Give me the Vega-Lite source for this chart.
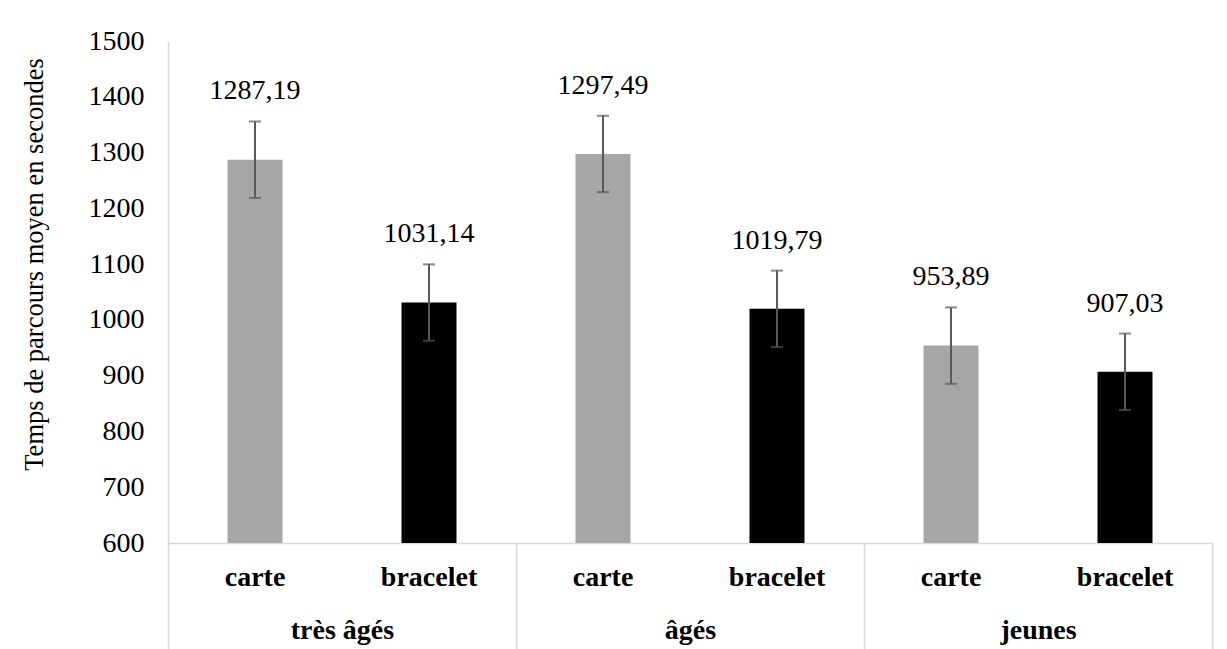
{
  "$schema": "https://vega.github.io/schema/vega-lite/v6.json",
  "width": 1044,
  "height": 502,
  "autosize": {"type": "none"},
  "padding": {"left": 168, "top": 41, "right": 15, "bottom": 106},
  "background": "white",
  "config": {
    "view": {"stroke": null},
    "font": "Liberation Serif",
    "axis": {"labelFont": "Liberation Serif", "titleFont": "Liberation Serif"},
    "text": {"font": "Liberation Serif"},
    "locale": {"number": {"decimal": ",", "thousands": "", "grouping": [3], "currency": ["", ""]}}
  },
  "data": {
    "values": [
      {"group": "très âgés", "type": "carte", "value": 1287.19, "lo": 1218.7, "hi": 1355.7},
      {"group": "très âgés", "type": "bracelet", "value": 1031.14, "lo": 962.6, "hi": 1099.6},
      {"group": "âgés", "type": "carte", "value": 1297.49, "lo": 1229.0, "hi": 1366.0},
      {"group": "âgés", "type": "bracelet", "value": 1019.79, "lo": 951.3, "hi": 1088.3},
      {"group": "jeunes", "type": "carte", "value": 953.89, "lo": 885.4, "hi": 1022.4},
      {"group": "jeunes", "type": "bracelet", "value": 907.03, "lo": 838.5, "hi": 975.5}
    ]
  },
  "encoding": {
    "x": {
      "field": "group", "type": "nominal", "sort": ["très âgés", "âgés", "jeunes"],
      "scale": {"paddingInner": 0, "paddingOuter": 0},
      "axis": {
        "title": null, "labelAngle": 0, "labelFont": "Liberation Serif", "labelFontSize": 28,
        "labelFontWeight": "bold", "labelColor": "black", "domainColor": "#d9d9d9", "domainWidth": 1.5,
        "tickColor": "#d9d9d9", "tickWidth": 1.5, "tickSize": 110, "tickBand": "extent",
        "labelPadding": -23, "labelBaseline": "middle"
      }
    },
    "xOffset": {
      "field": "type", "type": "nominal", "sort": ["carte", "bracelet"],
      "scale": {"paddingInner": 0.684, "paddingOuter": 0.342}
    }
  },
  "layer": [
    {
      "mark": {"type": "bar"},
      "encoding": {
        "y": {
          "field": "value", "type": "quantitative",
          "scale": {"domain": [600, 1500], "nice": false, "zero": false},
          "axis": {
            "title": "Temps de parcours moyen  en secondes",
            "values": [600, 700, 800, 900, 1000, 1100, 1200, 1300, 1400, 1500],
            "format": "d", "grid": false, "ticks": false,
            "domainColor": "#d9d9d9", "domainWidth": 1.5,
            "labelFont": "Liberation Serif", "labelFontSize": 28, "labelColor": "black", "labelPadding": 24,
            "titleFont": "Liberation Serif", "titleFontSize": 26.5, "titleFontWeight": "normal", "titleColor": "black",
            "titleX": -134, "titleY": 223, "titleBaseline": "middle", "titleAnchor": "middle"
          }
        },
        "y2": {"datum": 600},
        "color": {
          "field": "type", "type": "nominal",
          "scale": {"domain": ["carte", "bracelet"], "range": ["#a6a6a6", "#000000"]},
          "legend": null
        }
      }
    },
    {
      "mark": {"type": "rule", "color": "#595959", "strokeWidth": 2},
      "encoding": {
        "y": {"field": "lo", "type": "quantitative"},
        "y2": {"field": "hi"}
      }
    },
    {
      "mark": {"type": "tick", "color": "#595959", "thickness": 2, "size": 12, "orient": "horizontal"},
      "encoding": {"y": {"field": "hi", "type": "quantitative"}}
    },
    {
      "mark": {"type": "tick", "color": "#595959", "thickness": 2, "size": 12, "orient": "horizontal"},
      "encoding": {"y": {"field": "lo", "type": "quantitative"}}
    },
    {
      "mark": {"type": "text", "font": "Liberation Serif", "fontSize": 28, "dy": -30, "baseline": "middle", "color": "black"},
      "encoding": {
        "y": {"field": "hi", "type": "quantitative"},
        "text": {"field": "value", "type": "quantitative", "format": ".2f"}
      }
    },
    {
      "mark": {"type": "text", "font": "Liberation Serif", "fontSize": 28, "fontWeight": "bold", "baseline": "middle", "dy": 35, "color": "black"},
      "encoding": {
        "y": {"datum": 600},
        "text": {"field": "type", "type": "nominal"}
      }
    }
  ]
}
